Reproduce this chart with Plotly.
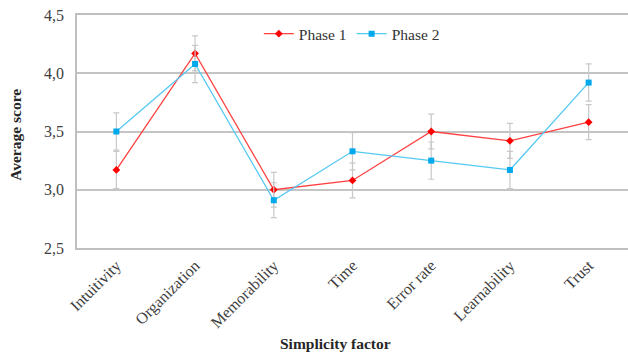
import plotly.graph_objects as go

categories = ["Intuitivity", "Organization", "Memorability", "Time", "Error rate", "Learnability", "Trust"]
phase1 = [3.17, 4.17, 3.00, 3.08, 3.50, 3.42, 3.58]
phase1_err = [0.16, 0.15, 0.15, 0.15, 0.15, 0.15, 0.15]
phase2 = [3.50, 4.08, 2.91, 3.33, 3.25, 3.17, 3.92]
phase2_err = [0.16, 0.16, 0.15, 0.16, 0.16, 0.16, 0.16]
y_ticks = [2.5, 3.0, 3.5, 4.0, 4.5]

font_family = "Liberation Serif, Times New Roman, serif"

fig = go.Figure()
fig.add_trace(go.Scatter(
    x=categories, y=phase1, name="Phase 1", mode="lines+markers",
    line=dict(color="#ff4040", width=1.3),
    marker=dict(symbol="diamond", size=6, color="#ff0000"),
    error_y=dict(type="data", array=phase1_err, visible=True, color="#c8c8c8", thickness=1.2, width=3),
))
fig.add_trace(go.Scatter(
    x=categories, y=phase2, name="Phase 2", mode="lines+markers",
    line=dict(color="#55c8f2", width=1.3),
    marker=dict(symbol="square", size=6, color="#00a8ec"),
    error_y=dict(type="data", array=phase2_err, visible=True, color="#c8c8c8", thickness=1.2, width=3),
))

fig.update_layout(
    width=628, height=352,
    margin=dict(l=77, r=0, t=15, b=104),
    paper_bgcolor="white", plot_bgcolor="white",
    separators=",.",
    font=dict(family=font_family, size=16, color="#404040"),
    showlegend=True,
    legend=dict(orientation="h", x=0.33, y=0.918, xanchor="left", yanchor="middle",
                bgcolor="rgba(0,0,0,0)", font=dict(size=15.5, color="#333333"),
                itemwidth=30, tracegroupgap=0),
    xaxis=dict(
        range=[-0.5, 6.5], automargin=False,
        tickangle=-45, showgrid=False, showline=True, linecolor="#bfbfbf", linewidth=2,
        mirror=True, ticks="", tickfont=dict(size=16, color="#404040"),
    ),
    yaxis=dict(
        range=[2.5, 4.5], tickvals=y_ticks, tickformat=".1f", automargin=False,
        showgrid=True, gridcolor="#c4c4c4", gridwidth=1.5,
        showline=True, linecolor="#bfbfbf", linewidth=1.5, mirror=False,
        ticks="", zeroline=False, ticklabelstandoff=8, tickfont=dict(size=16, color="#404040"),
    ),
    annotations=[
        dict(text="<b>Average score</b>", xref="paper", yref="paper", x=-0.111, y=0.485,
             xanchor="center", yanchor="middle", textangle=-90, showarrow=False,
             font=dict(size=15.5, color="#262626")),
        dict(text="<b>Simplicity factor</b>", xref="paper", yref="paper", x=0.47, y=-0.408,
             xanchor="center", yanchor="middle", showarrow=False,
             font=dict(size=15.5, color="#262626")),
    ],
)

fig.write_html("out.html")
